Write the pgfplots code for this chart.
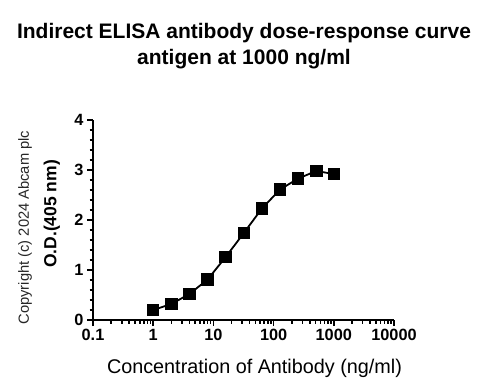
\documentclass[border=0pt]{standalone}
\usepackage{pgfplots}
\pgfplotsset{compat=1.18}
\usepackage{fontspec}
\setmainfont{Liberation Sans}
\begin{document}
\begin{tikzpicture}[x=1bp,y=1bp]
\path[use as bounding box] (0,0) rectangle (487,391);
\node[font=\fontsize{21bp}{24bp}\selectfont\bfseries, anchor=base] at (244,353) {Indirect ELISA antibody dose-response curve};
\node[font=\fontsize{21bp}{24bp}\selectfont\bfseries, anchor=base] at (244,327) {antigen at 1000 ng/ml};
\node[rotate=90, font=\fontsize{14.7bp}{16bp}\selectfont, text=black!85] at (25,163.5) {Copyright (c) 2024 Abcam plc};
\begin{axis}[
  at={(93bp,71bp)}, anchor=south west,
  scale only axis, width=301bp, height=200bp,
  xmode=log, xmin=0.1, xmax=10000,
  ymin=0, ymax=4,
  axis lines=left, axis line style={line width=1.8bp, -},
  xtick={0.1,1,10,100,1000,10000},
  xticklabels={0.1,1,10,100,1000,10000},
  ytick={0,1,2,3,4},
  minor ytick={0.2,0.4,0.6,0.8,1.2,1.4,1.6,1.8,2.2,2.4,2.6,2.8,3.2,3.4,3.6,3.8},
  tick align=outside,
  major tick length=6bp, minor tick length=3.5bp,
  every tick/.style={black, line width=1.6bp},
  tick label style={font=\fontsize{16.3bp}{18bp}\selectfont\bfseries},
  /pgf/number format/assume math mode=true,
  xlabel={Concentration of Antibody (ng/ml)},
  ylabel={O.D.(405 nm)},
  xlabel style={font=\fontsize{19.8bp}{22bp}\selectfont, at={(axis description cs:0.5365,-0.265)}, anchor=base},
  ylabel style={font=\fontsize{17.5bp}{20bp}\selectfont\bfseries, at={(axis description cs:-0.1213,0.53)}, anchor=base},
  clip=false,
]
\addplot[black, line width=1.8bp, mark=square*, mark size=5.3bp, mark options={solid}] coordinates {
(1,0.20) (2,0.32) (4,0.52) (8,0.81) (16,1.26) (32,1.74) (64,2.23) (128,2.61) (256,2.83) (512,2.98) (1000,2.92)
};
\end{axis}
\end{tikzpicture}
\end{document}
